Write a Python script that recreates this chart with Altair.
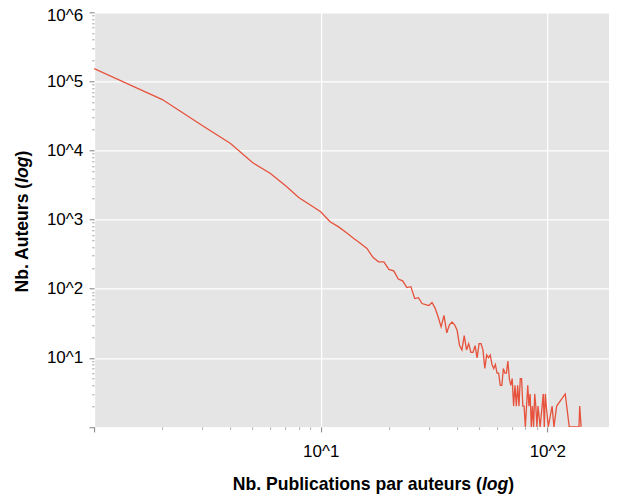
import altair as alt
import pandas as pd

# Number of publications per author (x) and number of authors (y)
pubs = list(range(1, 92)) + [93, 96, 97, 98, 99, 101, 105, 107, 110, 120, 125, 138, 139, 141]
auteurs = [
    153000, 54600, 23000, 12600, 6700, 4650, 3080, 2090, 1630, 1300,
    930, 785, 643, 533, 452, 383, 284, 245, 245, 190,
    181, 138, 130, 104, 107, 72, 74, 61, 59, 57,
    63, 52, 39, 28, 41, 23, 30, 33, 30, 25,
    15, 13, 21, 13, 16, 12, 12, 15, 10, 16,
    16, 13, 7, 11, 10, 11, 8, 7, 8, 6,
    6, 4, 4, 7, 6, 6, 9, 5, 4, 5,
    2, 4, 2, 4, 2, 5, 5, 2, 2, 1,
    2, 4, 2, 3, 1, 2, 1, 3, 2, 1,
    2,
    1, 3, 1, 3, 2, 1, 2, 1, 2, 3, 1, 1, 2, 1,
]

x_ticks = [d * 10 ** k for k in range(3) for d in range(1, 10)]
y_ticks = [d * 10 ** k for k in range(6) for d in range(1, 10)] + [10 ** 6]
x_major = [1, 10, 100]
y_major = [1, 10, 100, 1000, 10000, 100000, 1000000]

x_title = ["Nb. Publications par auteurs (", "log", ")"]
y_title = ["Nb. Auteurs (", "log", ")"]

df = pd.DataFrame({"pubs": pubs, "auteurs": auteurs})

W, H = 514.9, 414.6
X_MAX = 187.2
FONT = "Liberation Sans"
LINE = "#E6523C"
FS = 17.6

mx = f"indexof({x_major}, datum.value) >= 0"
my = f"indexof({y_major}, datum.value) >= 0"


def axis(values, major, labels_test, label_padding, label_offset=None):
    kw = dict(
        values=values,
        title=None,
        domain=False,
        grid=True,
        gridColor="white",
        gridWidth=1.2,
        gridOpacity={"condition": {"test": major, "value": 1}, "value": 0},
        ticks=True,
        tickSize={"condition": {"test": major, "value": 5}, "value": 2.5},
        tickColor={"condition": {"test": major, "value": "#7f7f7f"}, "value": "#a8a8a8"},
        tickWidth=1,
        labelExpr=f"({labels_test}) ? '10^' + round(log(datum.value)/LN10) : ''",
        labelFont=FONT,
        labelFontSize=17,
        labelColor="black",
        labelPadding=label_padding,
        labelOverlap=False,
        labelFlush=False,
    )
    if label_offset is not None:
        kw["labelOffset"] = label_offset
    return alt.Axis(**kw)


xa = axis(x_ticks, mx, "datum.value == 10 || datum.value == 100", 11.5)
ya = axis(
    y_ticks, my, "datum.value >= 10 && " + my, 6.4,
    label_offset={"condition": {"test": "datum.value == 1000000", "value": 2.8}, "value": 0},
)

line = alt.Chart(df).mark_line(color=LINE, strokeWidth=1.3, clip=True).encode(
    x=alt.X("pubs:Q", scale=alt.Scale(type="log", domain=[1, X_MAX], nice=False), axis=xa),
    y=alt.Y("auteurs:Q", scale=alt.Scale(type="log", domain=[1, 1000000], nice=False), axis=ya),
)


def txt(s, x, y, angle=0, align="left", italic=False):
    kw = dict(
        text=s, align=align, baseline="alphabetic", font=FONT, fontSize=FS,
        fontWeight="bold", color="black", angle=angle,
    )
    if italic:
        kw["fontStyle"] = "italic"
    return alt.Chart(alt.Data(values=[{"k": 0}])).mark_text(**kw).encode(
        x=alt.value(x), y=alt.value(y)
    )


# x title pieces (bold with italic "log")
px = 387.8
tx1 = txt(x_title[0], px, 477.7, align="right")
tx2 = txt(x_title[1], px, 477.7, align="left", italic=True)
tx3 = txt(x_title[2], px + 26.4, 477.7, align="left")

# y title pieces, rotated
py = 170.5
ty1 = txt(y_title[0], -66.3, py, angle=270, align="right")
ty2 = txt(y_title[1], -66.3, py, angle=270, align="left", italic=True)
ty3 = txt(y_title[2], -66.3, py - 26.4, angle=270, align="left")

chart = alt.layer(line, tx1, tx2, tx3, ty1, ty2, ty3).properties(
    width=W,
    height=H,
    autosize=alt.AutoSizeParams(type="none"),
    padding={"left": 86.1, "top": 4.3, "right": 0, "bottom": 67},
    background="white",
).configure_view(fill="#E5E5E5", stroke="transparent")

chart.save("out.html", embed_options={"renderer": "svg", "actions": False})
